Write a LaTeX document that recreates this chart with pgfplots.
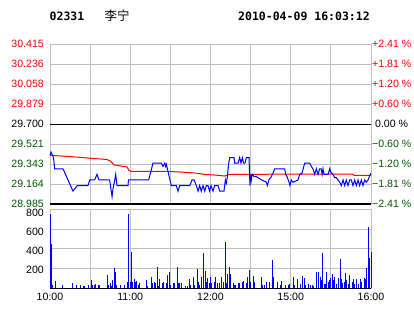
\documentclass[border=0pt]{standalone}
\usepackage{pgfplots}
\pgfplotsset{compat=1.18}
\usepackage{fontspec}
\setmainfont{Liberation Sans}
\newfontfamily\titlefont{DejaVu Sans Mono}
\newfontfamily\cjk{Noto Sans CJK SC}
\definecolor{pred}{RGB}{255,0,0}
\definecolor{pgreen}{RGB}{0,90,0}
\definecolor{gridgrey}{RGB}{192,192,192}
\definecolor{pblue}{RGB}{0,0,255}
\pgfplotsset{every tick label/.append style={font=\fontsize{10.6}{12}\selectfont}}
\begin{document}
\begin{tikzpicture}
\useasboundingbox (0,0) rectangle (414pt,-314pt);
\node[anchor=base west,inner sep=0pt] at (49.5pt,-20.7pt) {\titlefont\bfseries\fontsize{11.5}{13}\selectfont 02331};
\node[anchor=base west,inner sep=0pt] at (104.5pt,-20pt) {\cjk\fontsize{12.5}{14}\selectfont 李宁};
\node[anchor=base west,inner sep=0pt] at (238pt,-20.7pt) {\titlefont\bfseries\fontsize{11.5}{13}\selectfont 2010-04-09 16:03:12};
% price panel
\begin{axis}[
  at={(50pt,-204pt)}, anchor=south west, scale only axis,
  width=321pt, height=160pt,
  xmin=0, xmax=240, ymin=28.985, ymax=30.415,
  xtick={0,30,...,240}, xticklabel=\empty,
  ytick={28.985,29.16375,29.3425,29.52125,29.7,29.87875,30.0575,30.23625,30.415},
  yticklabels={\textcolor{pgreen}{28.985},\textcolor{pgreen}{29.164},\textcolor{pgreen}{29.343},\textcolor{pgreen}{29.521},\textcolor{black}{29.700},\textcolor{pred}{29.879},\textcolor{pred}{30.058},\textcolor{pred}{30.236},\textcolor{pred}{30.415}},
  grid=major, grid style={gridgrey, line width=1pt},
  axis line style={gridgrey, line width=1pt},
  major tick length=0pt,
  yticklabel style={anchor=east, inner sep=0pt, xshift=-6pt},
  clip=false,
]
\draw[black, line width=1pt] (axis cs:0,29.7) -- (axis cs:240,29.7);
\draw[black, line width=1.6pt] (axis cs:0,28.985) -- (axis cs:240,28.985);
% average line
\addplot[pred, line width=1pt] coordinates {
(0,29.420) (12.7,29.411) (22.4,29.402) (32.1,29.392) (42.6,29.383) (45.6,29.365)
(47.9,29.334) (57.6,29.316) (59.1,29.285) (60.6,29.276) (88.2,29.276) (97.2,29.271)
(108.4,29.262) (115.9,29.249) (123.4,29.244) (130.8,29.235) (133.8,29.249)
(191.4,29.253) (225.8,29.253) (227.3,29.242) (240,29.242)
};
% price line
\addplot[pblue, line width=1pt] coordinates {
(0,29.42) (0.75,29.45) (1.9,29.42) (2.6,29.40) (3.5,29.30) (9.7,29.30) (17.2,29.10)
(20.4,29.15) (28.4,29.15) (29.7,29.20) (33.4,29.20) (35.1,29.25) (36.6,29.20)
(44.6,29.20) (45.8,29.10) (46.4,29.05) (47.1,29.12) (48.4,29.20) (49.1,29.25)
(50.1,29.15) (58.3,29.15) (58.7,29.20) (73.8,29.20) (77,29.35) (83.2,29.35)
(84.5,29.32) (85.8,29.35) (86.5,29.32) (87,29.34) (88.7,29.25) (90.7,29.15)
(94.4,29.15) (95.7,29.10) (97,29.15) (104.5,29.15) (106.2,29.20) (107.7,29.20)
(109.4,29.15) (110.7,29.10) (111.9,29.15) (113.1,29.10) (114.4,29.15) (115.7,29.10)
(116.9,29.15) (118.1,29.15) (119.3,29.10) (120.4,29.15) (121.9,29.10) (123.1,29.15)
(125.6,29.15) (126.9,29.10) (130.1,29.10) (131.1,29.20) (131.8,29.17) (132.6,29.23)
(133.6,29.35) (134.4,29.40) (137.6,29.40) (138.1,29.35) (140.6,29.35) (141.8,29.40)
(142.8,29.35) (143.8,29.40) (144.7,29.35) (145.8,29.35) (146.8,29.40) (148.8,29.40)
(149.5,29.15) (150.1,29.25) (150.5,29.20) (151,29.24) (151.6,29.25) (152.5,29.23)
(154.2,29.23) (155.5,29.22) (158.3,29.20) (161.7,29.18) (162.5,29.15) (163.7,29.20)
(165.5,29.23) (166.7,29.26) (168,29.30) (175.5,29.30) (176.2,29.25) (177.2,29.23)
(178.7,29.18) (179.4,29.15) (180.4,29.20) (181.7,29.18) (185.4,29.20) (186.7,29.25)
(188.4,29.26) (190.4,29.35) (194.2,29.35) (195.4,29.32) (196.6,29.30) (197.9,29.25)
(199.1,29.30) (200.4,29.25) (201.6,29.30) (202.8,29.30) (203.5,29.25) (204.1,29.30)
(204.9,29.25) (207.9,29.25) (209.1,29.30) (209.9,29.27) (211.6,29.25) (212.9,29.22)
(214.1,29.22) (215.3,29.20) (216.6,29.18) (217.8,29.15) (219.1,29.20) (220.3,29.15)
(221.5,29.20) (222.8,29.15) (224.1,29.20) (225.3,29.20) (226.5,29.15) (227.8,29.20)
(229,29.15) (230.3,29.20) (231.5,29.15) (232.8,29.20) (234,29.15) (235.3,29.20)
(236.5,29.18) (237.8,29.20) (239.8,29.26)
};
\end{axis}
% percent labels on the right
\begin{axis}[
  at={(50pt,-204pt)}, anchor=south west, scale only axis,
  width=321pt, height=160pt,
  xmin=0, xmax=240, ymin=28.985, ymax=30.415,
  axis line style={draw=none}, xtick=\empty,
  ytick={28.985,29.16375,29.3425,29.52125,29.7,29.87875,30.0575,30.23625,30.415},
  yticklabels={\textcolor{pgreen}{−2.41 \%},\textcolor{pgreen}{−1.81 \%},\textcolor{pgreen}{−1.20 \%},\textcolor{pgreen}{−0.60 \%},\textcolor{black}{\ 0.00 \%},\textcolor{pred}{+0.60 \%},\textcolor{pred}{+1.20 \%},\textcolor{pred}{+1.81 \%},\textcolor{pred}{+2.41 \%}},
  yticklabel pos=right,
  major tick length=0pt,
  yticklabel style={anchor=west, inner sep=0pt, xshift=1pt},
]
\end{axis}
% volume panel
\begin{axis}[
  at={(50pt,-288.3pt)}, anchor=south west, scale only axis,
  width=321pt, height=79pt,
  xmin=0, xmax=240, ymin=0, ymax=840,
  xtick={0,30,...,240}, xticklabels={10:00,,11:00,,12:00,,15:00,,16:00},
  xmajorgrids, grid style={gridgrey, line width=1pt},
  ytick={200,400,600,800}, yticklabels={200,400,600,800},
  extra y ticks={210,420,630}, extra y tick labels={},
  extra y tick style={ymajorgrids=true},
  axis line style={gridgrey, line width=1pt},
  major tick length=0pt,
  yticklabel style={anchor=east, inner sep=0pt, xshift=-6pt},
  xticklabel style={anchor=north, inner sep=0pt, yshift=-4.3pt},
  clip=false,
]
\draw[black, line width=1.6pt] (axis cs:0,0) -- (axis cs:240,0);
\addplot[pblue, ycomb, line width=1pt] coordinates {
(0,790) (1,470) (2,35) (4,78) (9,35) (17,53) (20,35) (23,35) (25,25) (26,25) (29,35)
(31,88) (32,35) (33,35) (34,45) (36,35) (37,35) (43,141) (44,35) (45,60) (46,24)
(47,88) (48,213) (49,177) (50,35) (53,35) (56,35) (58,67) (59,790) (60,67) (61,390)
(62,67) (63,95) (64,71) (65,78) (66,35) (67,53) (72,88) (73,24) (76,117) (77,60)
(78,71) (79,60) (80,230) (81,24) (82,103) (84,53) (85,71) (87,53) (88,141) (89,170)
(90,35) (92,53) (93,60) (95,227) (96,53) (97,53) (98,53) (101,24) (103,24) (104,103)
(105,35) (107,117) (108,35) (110,202) (111,71) (112,35) (113,117) (115,379) (116,188)
(117,71) (118,106) (119,60) (120,120) (121,60) (123,71) (124,117) (125,53) (127,60)
(128,117) (130,71) (131,496) (132,53) (133,152) (134,223) (135,152) (137,53) (138,35)
(139,35) (141,53) (142,53) (144,71) (145,78) (147,53) (148,117) (149,195) (150,71)
(152,128) (153,71) (158,117) (159,35) (160,35) (162,71) (164,71) (166,301) (167,117)
(170,71) (172,35) (173,78) (176,35) (178,35) (179,46) (182,117) (183,35) (185,96)
(187,46) (189,131) (190,106) (191,35) (193,46) (195,35) (196,35) (197,24) (199,177)
(201,177) (202,117) (203,88) (204,379) (205,46) (206,46) (207,170) (208,71) (209,88)
(210,113) (211,152) (212,88) (213,117) (214,46) (216,106) (217,308) (218,96) (219,53)
(220,71) (221,163) (222,88) (223,46) (224,141) (226,71) (227,96) (228,46) (229,96)
(231,46) (232,96) (233,71) (235,106) (236,96) (237,213) (238,649) (239,319) (240,390)
};
\end{axis}
\end{tikzpicture}
\end{document}
